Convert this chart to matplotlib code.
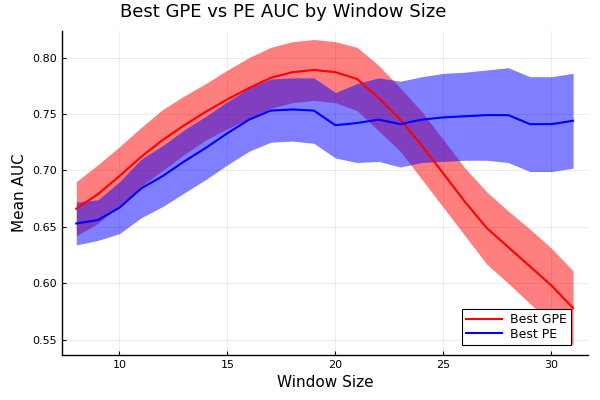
import numpy as np
import matplotlib
matplotlib.use("Agg")
import matplotlib.pyplot as plt

# Tamanhos de janela e AUC medio (+/- desvio)
window = list(range(8, 32))
gpe_mean = [0.666, 0.679, 0.695, 0.712, 0.727, 0.740, 0.752, 0.763, 0.773, 0.782, 0.787, 0.789,
            0.787, 0.781, 0.764, 0.745, 0.722, 0.697, 0.672, 0.649, 0.632, 0.615, 0.598, 0.578]
gpe_std = [0.024, 0.026, 0.026, 0.026, 0.027, 0.026, 0.025, 0.026, 0.027, 0.027, 0.027, 0.027,
           0.027, 0.028, 0.029, 0.028, 0.030, 0.030, 0.030, 0.032, 0.032, 0.033, 0.033, 0.033]
pe_mean = [0.653, 0.656, 0.667, 0.684, 0.695, 0.708, 0.720, 0.733, 0.745, 0.753, 0.754, 0.753,
           0.740, 0.742, 0.745, 0.741, 0.745, 0.747, 0.748, 0.749, 0.749, 0.741, 0.741, 0.744]
pe_std = [0.019, 0.018, 0.023, 0.026, 0.027, 0.028, 0.028, 0.028, 0.028, 0.028, 0.028, 0.029,
          0.029, 0.035, 0.037, 0.038, 0.038, 0.039, 0.039, 0.040, 0.042, 0.042, 0.042, 0.042]

x = np.array(window)
gm, gs = np.array(gpe_mean), np.array(gpe_std)
pm, ps = np.array(pe_mean), np.array(pe_std)

fig = plt.figure(figsize=(6, 4), dpi=100)
ax = fig.add_axes([62 / 600, 1 - 355 / 400, 526 / 600, 324 / 400])

ax.fill_between(x, gm - gs, gm + gs, color="red", alpha=0.5, linewidth=0)
ax.plot(x, gm, color="red", linewidth=1.5, label="Best GPE")
ax.fill_between(x, pm - ps, pm + ps, color="blue", alpha=0.5, linewidth=0)
ax.plot(x, pm, color="blue", linewidth=1.5, label="Best PE")

ax.set_xlim(7.34, 31.69)
ax.set_ylim(0.5365, 0.8235)
ax.set_xticks([10, 15, 20, 25, 30])
ax.set_yticks([0.55, 0.60, 0.65, 0.70, 0.75, 0.80])
ax.set_yticklabels(["0.55", "0.60", "0.65", "0.70", "0.75", "0.80"])

ax.grid(True, color="black", alpha=0.1, linewidth=0.5)
for s in ["top", "right"]:
    ax.spines[s].set_visible(False)
for s in ["left", "bottom"]:
    ax.spines[s].set_color("black")
    ax.spines[s].set_linewidth(1)
ax.tick_params(direction="in", length=3, width=0.8, labelsize=8, colors="black")

ax.set_xlabel("Window Size", fontsize=11)
ax.set_ylabel("Mean AUC", fontsize=11)
fig.text(283 / 600, 1 - 12 / 400, "Best GPE vs PE AUC by Window Size",
         fontsize=13, ha="center", va="center")

leg = ax.legend(loc="lower right", bbox_to_anchor=(571 / 600, 1 - 345 / 400),
                bbox_transform=fig.transFigure, borderaxespad=0,
                fontsize=9, fancybox=False, framealpha=1, edgecolor="black",
                handlelength=2.9, labelspacing=0.1, borderpad=0.35, handletextpad=0.6)
leg.get_frame().set_linewidth(0.8)

fig.savefig("out.png", dpi=100)
